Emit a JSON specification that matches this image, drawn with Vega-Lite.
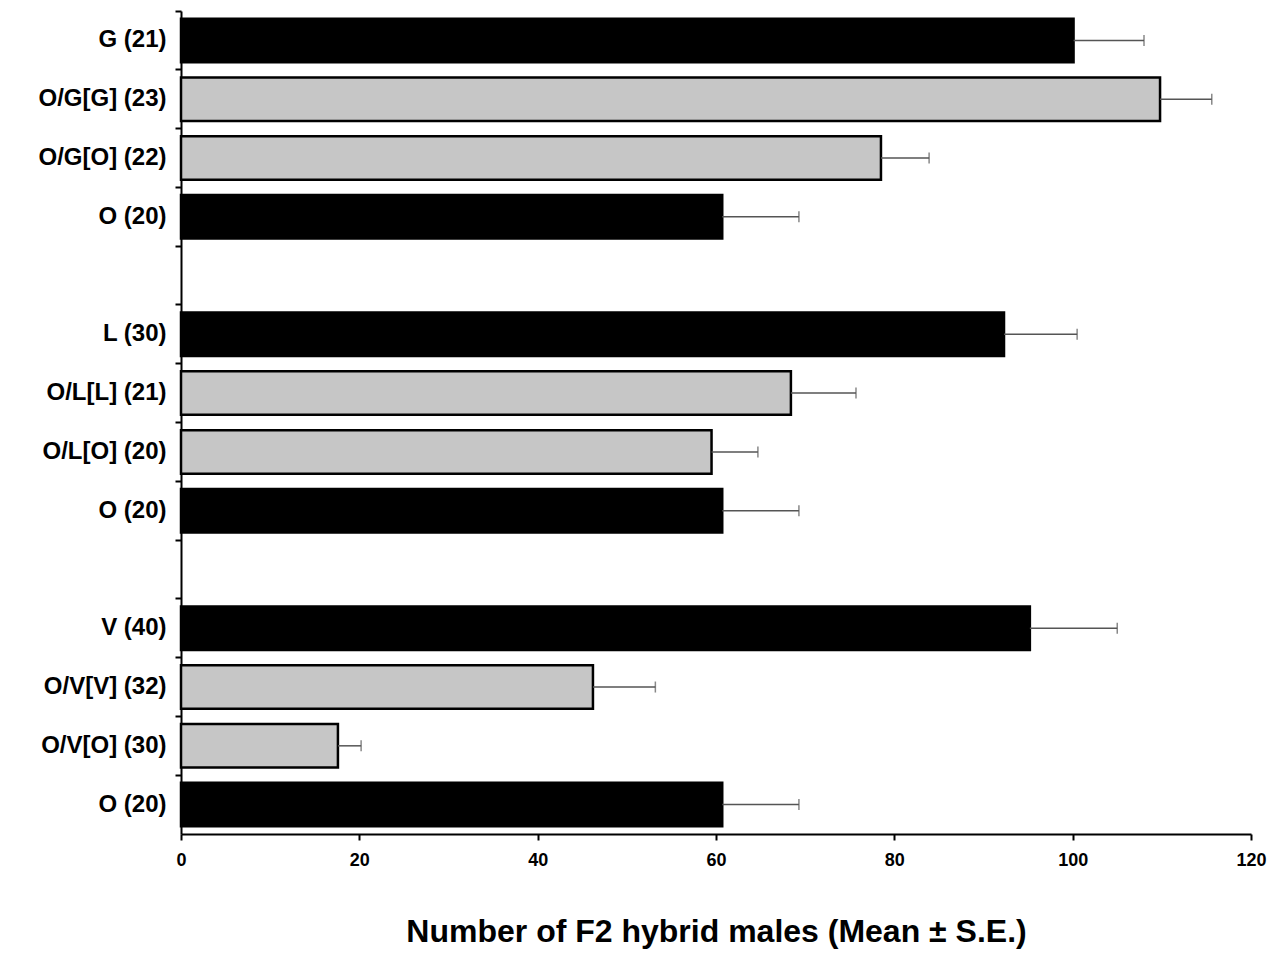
{
  "$schema": "https://vega.github.io/schema/vega-lite/v6.json",
  "width": 1070,
  "height": 823,
  "padding": {"left": 37, "top": 10, "right": 5, "bottom": 5},
  "background": "white",
  "config": {
    "view": {"stroke": null},
    "font": "Liberation Sans",
    "axis": {"grid": false, "domainColor": "black", "tickColor": "black", "labelColor": "black", "titleColor": "black"}
  },
  "data": {
    "values": [
      {"cat": "G (21)", "mean": 100.1, "hi": 108.0, "kind": "parent"},
      {"cat": "O/G[G] (23)", "mean": 109.8, "hi": 115.6, "kind": "hybrid"},
      {"cat": "O/G[O] (22)", "mean": 78.5, "hi": 83.9, "kind": "hybrid"},
      {"cat": "O (20)", "mean": 60.7, "hi": 69.3, "kind": "parent"},
      {"cat": "L (30)", "mean": 92.3, "hi": 100.5, "kind": "parent"},
      {"cat": "O/L[L] (21)", "mean": 68.4, "hi": 75.7, "kind": "hybrid"},
      {"cat": "O/L[O] (20)", "mean": 59.5, "hi": 64.7, "kind": "hybrid"},
      {"cat": "O (20)#2", "mean": 60.7, "hi": 69.3, "kind": "parent"},
      {"cat": "V (40)", "mean": 95.2, "hi": 105.0, "kind": "parent"},
      {"cat": "O/V[V] (32)", "mean": 46.2, "hi": 53.2, "kind": "hybrid"},
      {"cat": "O/V[O] (30)", "mean": 17.6, "hi": 20.2, "kind": "hybrid"},
      {"cat": "O (20)#3", "mean": 60.7, "hi": 69.3, "kind": "parent"}
    ]
  },
  "resolve": {"scale": {"y": "independent"}, "axis": {"y": "independent"}},
  "layer": [
    {
      "mark": {"type": "bar", "stroke": "black", "strokeWidth": 2.5},
      "encoding": {
        "y": {
          "field": "cat",
          "type": "nominal",
          "scale": {
            "domain": ["G (21)", "O/G[G] (23)", "O/G[O] (22)", "O (20)", "#gap1", "L (30)", "O/L[L] (21)", "O/L[O] (20)", "O (20)#2", "#gap2", "V (40)", "O/V[V] (32)", "O/V[O] (30)", "O (20)#3"],
            "paddingInner": 0.26,
            "paddingOuter": 0.13
          },
          "axis": {
            "orient": "left",
            "title": null,
            "ticks": false,
            "domainWidth": 2,
            "labelFontSize": 24,
            "labelFontWeight": "bold",
            "labelPadding": 15,
            "labelExpr": "indexof(datum.value,'#')>=0 ? substring(datum.value,0,indexof(datum.value,'#')) : datum.value"
          }
        },
        "x": {
          "field": "mean",
          "type": "quantitative",
          "scale": {"domain": [0, 120], "nice": false},
          "axis": {
            "values": [0, 20, 40, 60, 80, 100, 120],
            "title": "Number of F2 hybrid males (Mean ± S.E.)",
            "titleFontSize": 32,
            "titleFontWeight": "bold",
            "titlePadding": 47,
            "labelFontSize": 18,
            "labelFontWeight": "bold",
            "labelPadding": 11,
            "labelFlush": false,
            "tickSize": 6,
            "tickWidth": 2,
            "domainWidth": 2
          }
        },
        "fill": {
          "field": "kind",
          "type": "nominal",
          "scale": {"domain": ["parent", "hybrid"], "range": ["#000000", "#c6c6c6"]},
          "legend": null
        }
      }
    },
    {
      "encoding": {
        "y": {
          "field": "cat",
          "type": "nominal",
          "scale": {
            "domain": ["G (21)", "O/G[G] (23)", "O/G[O] (22)", "O (20)", "#gap1", "L (30)", "O/L[L] (21)", "O/L[O] (20)", "O (20)#2", "#gap2", "V (40)", "O/V[V] (32)", "O/V[O] (30)", "O (20)#3"],
            "paddingInner": 0,
            "paddingOuter": 0
          },
          "axis": {
            "orient": "left",
            "title": null,
            "labels": false,
            "domain": false,
            "bandPosition": 0,
            "tickSize": 6,
            "tickWidth": 2
          }
        }
      },
      "layer": [
        {
          "mark": {"type": "rule", "color": "#555555", "strokeWidth": 1.5},
          "encoding": {
            "x": {"field": "mean", "type": "quantitative"},
            "x2": {"field": "hi"}
          }
        },
        {
          "mark": {"type": "tick", "color": "#555555", "thickness": 1.5, "size": 11},
          "encoding": {
            "x": {"field": "hi", "type": "quantitative"}
          }
        }
      ]
    }
  ]
}
